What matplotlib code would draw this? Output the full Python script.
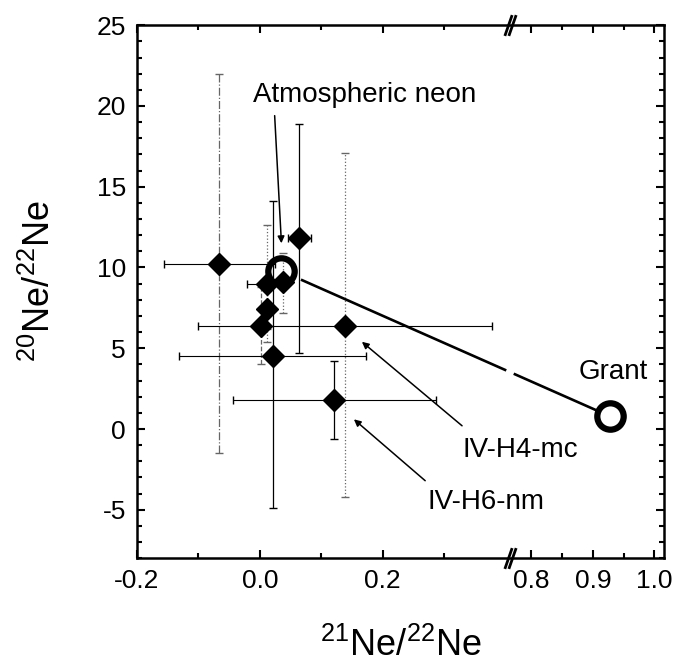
import numpy as np
import matplotlib.pyplot as plt
from matplotlib.path import Path
from matplotlib.transforms import blended_transform_factory

plt.rcParams['font.family'] = ['Liberation Sans', 'DejaVu Sans']
plt.rcParams['mathtext.fontset'] = 'custom'
plt.rcParams['mathtext.rm'] = 'Liberation Sans'
plt.rcParams['axes.unicode_minus'] = False

# Samples: 21Ne/22Ne vs 20Ne/22Ne, with error ranges
ne21 = np.array([-0.066, 0.063, 0.038, 0.011, 0.012, 0.002, 0.138, 0.021, 0.121])
ne20 = np.array([10.2, 11.8, 9.1, 9.0, 7.4, 6.4, 6.4, 4.5, 1.8])
ne21_lo = np.array([-0.156, 0.045, 0.038, -0.021, 0.012, 0.002, -0.100, -0.131, -0.044])
ne21_hi = np.array([0.024, 0.083, 0.038, 0.030, 0.012, 0.002, 0.377, 0.172, 0.287])
ne20_lo = np.array([-1.5, 4.7, 7.2, 5.4, 6.2, 4.0, -4.2, -4.9, -0.6])
ne20_hi = np.array([22.0, 18.9, 10.9, 12.6, 8.7, 8.8, 17.1, 14.1, 4.2])
vstyle = ['-.', '-', ':', ':', ':', '--', ':', '-', '-']
vcolor = ['0.4', 'k', '0.4', '0.4', '0.4', '0.4', '0.4', 'k', 'k']

# end members
atm = (0.034, 9.8)
grant = (0.927, 0.8)

# broken x axis
brk_lo, brk_hi = 0.407, 0.765
gap = brk_hi - brk_lo

def fwd(x):
    x = np.asarray(x, dtype=float)
    return np.where(x <= brk_lo, x, np.where(x >= brk_hi, x - gap, brk_lo))

def inv(t):
    t = np.asarray(t, dtype=float)
    return np.where(t <= brk_lo, t, t + gap)

fig = plt.figure(figsize=(6.75, 6.63), dpi=100)
ax = fig.add_axes([0.203, 0.158, 0.781, 0.804])
ax.set_xscale('function', functions=(fwd, inv))
ax.set_xlim(-0.2, 1.016)
ax.set_ylim(-8, 25)

for i in range(len(ne21)):
    if ne21_hi[i] > ne21_lo[i]:
        ax.errorbar(ne21[i], ne20[i], xerr=[[ne21[i] - ne21_lo[i]], [ne21_hi[i] - ne21[i]]],
                    fmt='none', ecolor='k', elinewidth=0.8, capsize=3)
    eb = ax.errorbar(ne21[i], ne20[i], yerr=[[ne20[i] - ne20_lo[i]], [ne20_hi[i] - ne20[i]]],
                     fmt='none', ecolor=vcolor[i], elinewidth=0.9, capsize=3)
    eb[2][0].set_linestyle(vstyle[i])
ax.plot(ne21, ne20, 'D', color='k', ms=11.5, zorder=5)

ax.plot(atm[0], atm[1], 'o', mfc='none', mec='k', ms=19, mew=4.5, zorder=6)
ax.plot(grant[0], grant[1], 'o', mfc='none', mec='k', ms=19, mew=4.5, zorder=6)

# mixing line atm -> Grant, with a gap at the axis break
t0, t1 = fwd(atm[0]), fwd(grant[0])
sb = (brk_lo - t0) / (t1 - t0)
for s in (np.array([0.065, sb - 0.015]), np.array([sb + 0.015, 0.96])):
    ax.plot(inv(t0 + s * (t1 - t0)), atm[1] + s * (grant[1] - atm[1]), color='k', lw=1.9)

arrow = dict(arrowstyle='-|>', lw=1.1, color='k', mutation_scale=10, shrinkA=0, shrinkB=0)
ax.text(-0.011, 20.7, 'Atmospheric neon', fontsize=20, va='center', ha='left')
ax.annotate('', xy=(0.035, 11.5), xytext=(0.024, 19.4), arrowprops=arrow)
ax.text(0.329, -1.3, 'IV-H4-mc', fontsize=20, va='center', ha='left')
ax.annotate('', xy=(0.166, 5.4), xytext=(0.329, 0.2), arrowprops=arrow)
ax.text(0.272, -4.5, 'IV-H6-nm', fontsize=20, va='center', ha='left')
ax.annotate('', xy=(0.153, 0.6), xytext=(0.269, -3.2), arrowprops=arrow)
ax.text(0.877, 3.5, 'Grant', fontsize=20, va='center', ha='left')

ax.set_xticks([-0.2, 0.0, 0.2, 0.8, 0.9, 1.0])
ax.set_xticklabels(['-0.2', '0.0', '0.2', '0.8', '0.9', '1.0'])
ax.set_xticks([-0.1, 0.1, 0.3, 0.85, 0.95], minor=True)
ax.set_yticks(np.arange(-5, 26, 5))
ax.set_yticks(np.arange(-8, 26, 1), minor=True)
ax.tick_params(which='both', direction='in', top=True, right=True, labelsize=19, width=1.5)
ax.tick_params(which='major', length=6, pad=8)
ax.tick_params(which='minor', length=3.5)
for sp in ax.spines.values():
    sp.set_linewidth(1.8)

ax.set_xlabel('$^{21}$Ne/$^{22}$Ne', fontsize=26)
ax.set_ylabel('$^{20}$Ne/$^{22}$Ne', fontsize=26)
ax.xaxis.set_label_coords(0.5, -0.13)
ax.yaxis.set_label_coords(-0.15, 0.52)

# break marks on top and bottom spines
slash = Path([(-0.35, -1), (0.35, 1)], [Path.MOVETO, Path.LINETO])
trans = blended_transform_factory(ax.transData, ax.transAxes)
for yy in (0, 1):
    ax.plot([brk_lo - 0.004, brk_hi + 0.004], [yy, yy], transform=trans, ls='none',
            marker=slash, ms=15, mec='k', mew=2, clip_on=False, zorder=10)

fig.savefig('out.png', dpi=100)
